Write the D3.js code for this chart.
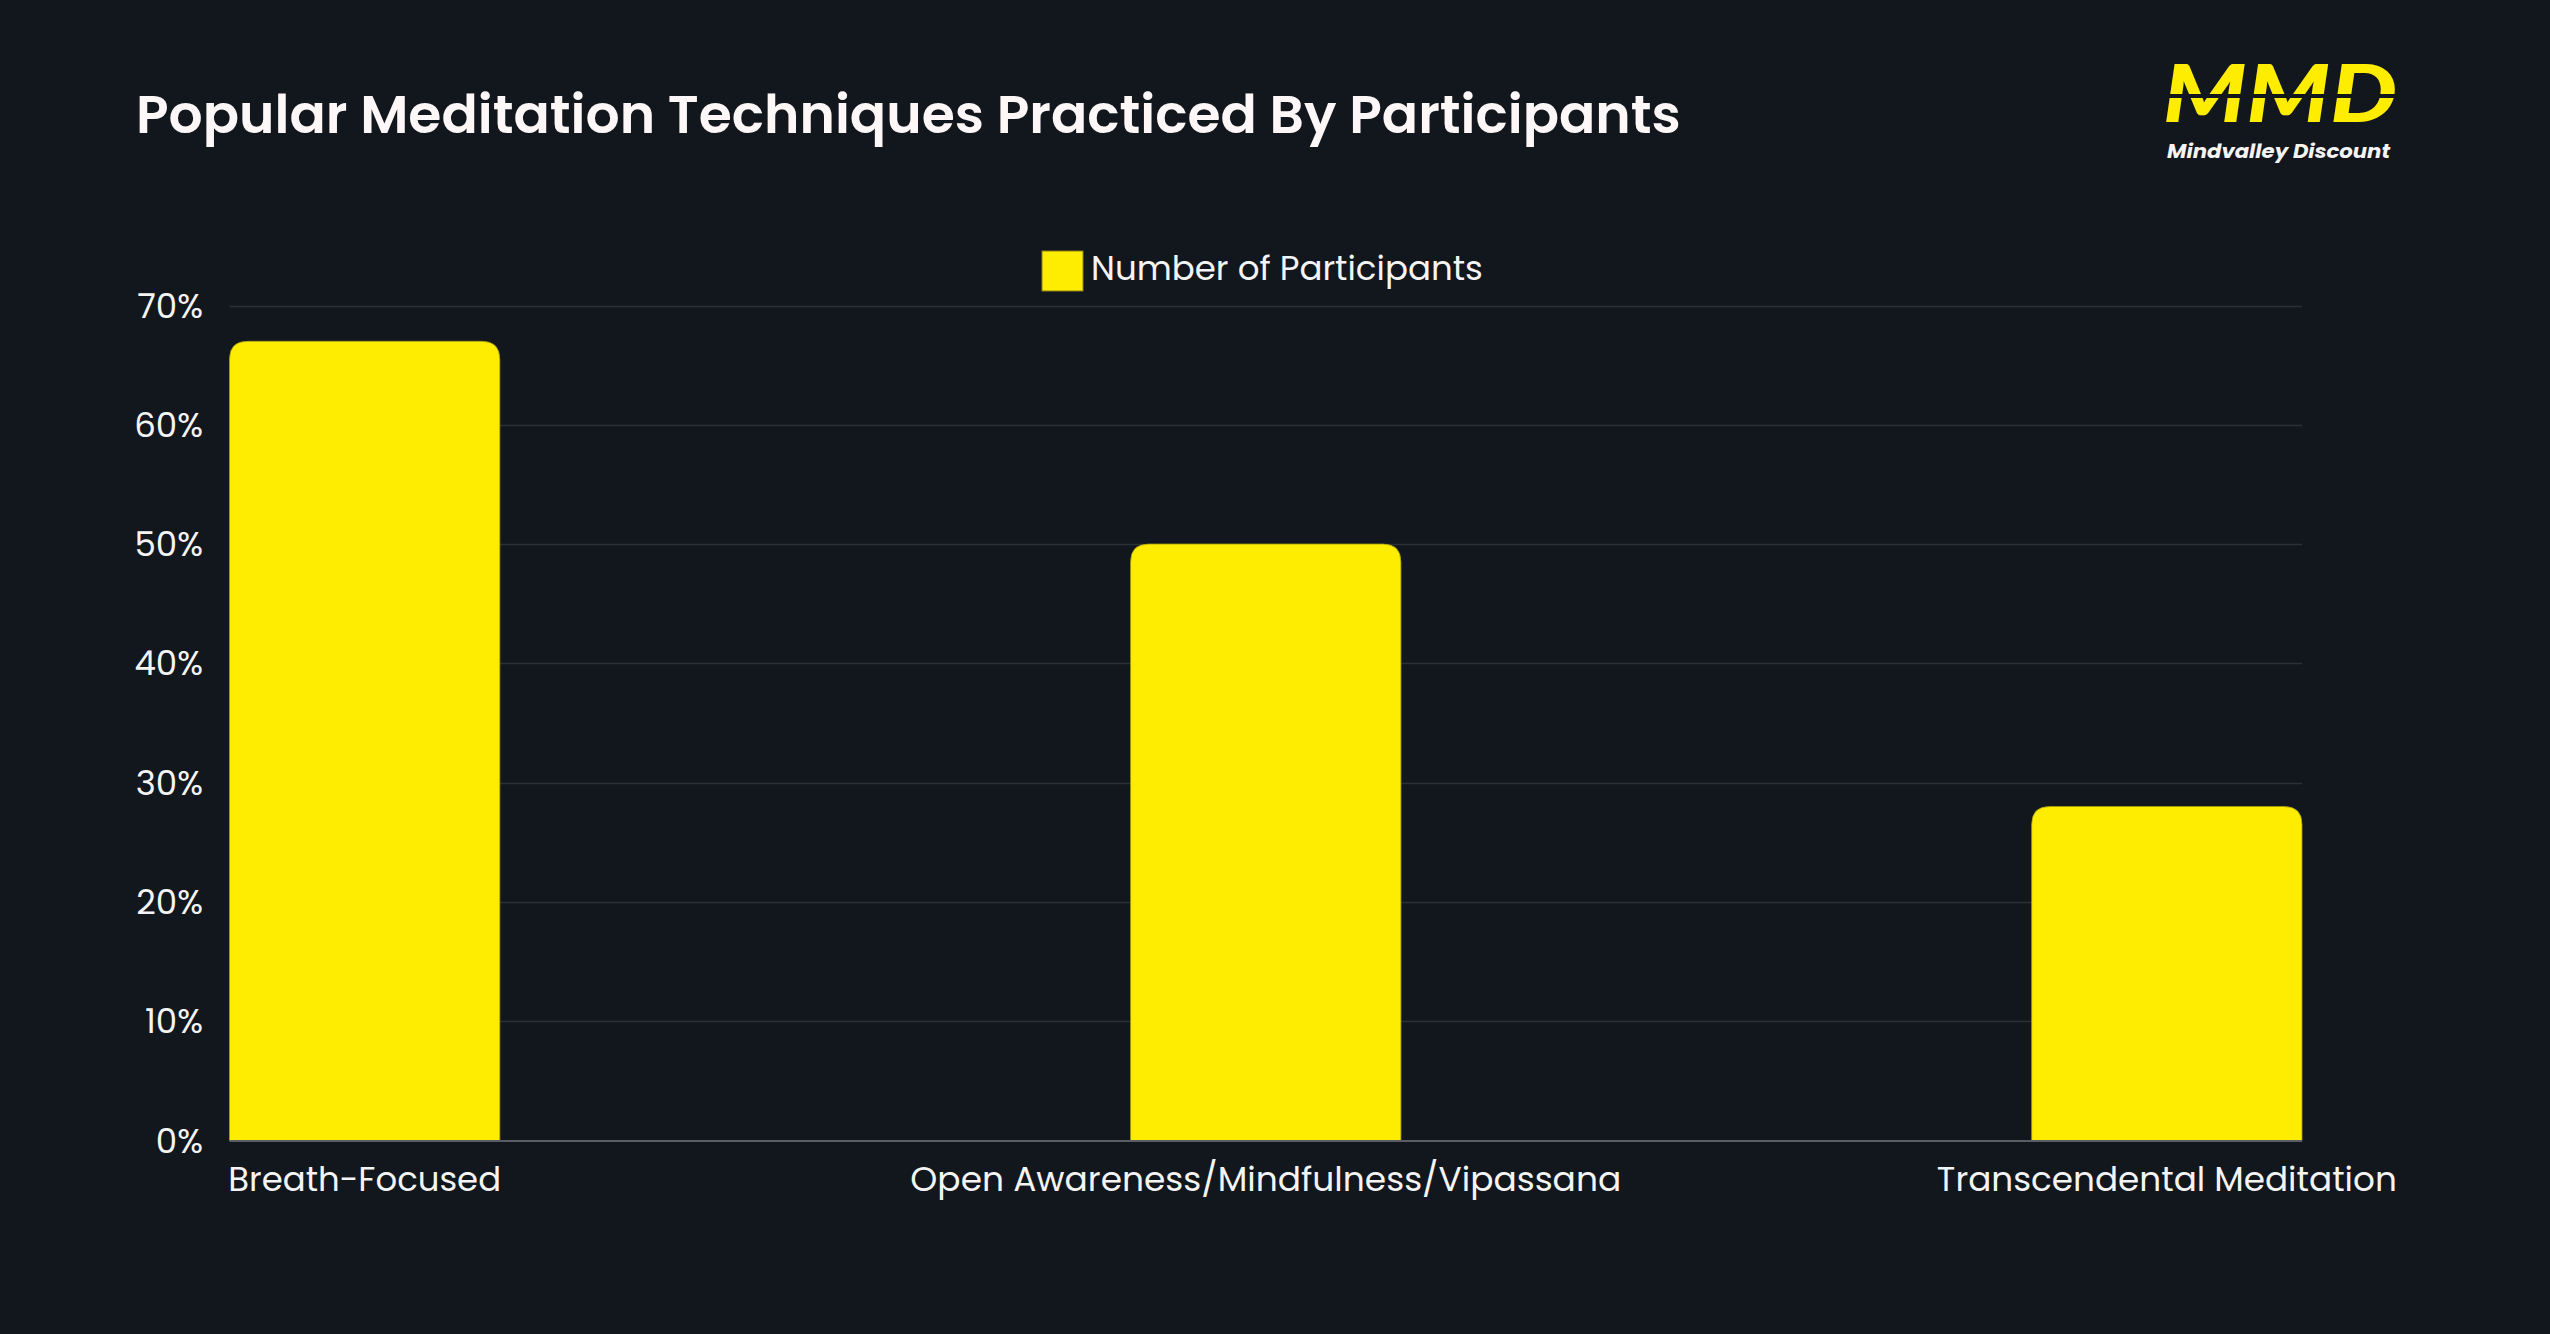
<!DOCTYPE html>
<html>
<head>
<meta charset="utf-8">
<script src="https://cdn.jsdelivr.net/npm/d3@7"></script>
<style>
html,body{margin:0;padding:0;background:#12161d;}
svg{display:block;}
text{font-family:"Poppins","Open Sans","Inter",sans-serif;}
</style>
</head>
<body>
<script>
const title = "Popular Meditation Techniques Practiced By Participants";
const seriesName = "Number of Participants";
const categories = ["Breath-Focused", "Open Awareness/Mindfulness/Vipassana", "Transcendental Meditation"];
const values = [67, 50, 28];
const yTicks = [0, 10, 20, 30, 40, 50, 60, 70];

const W = 2550, H = 1334;
const bg = "#12161d", barColor = "#ffed00";
const svg = d3.select("body").append("svg").attr("width", W).attr("height", H);
svg.append("rect").attr("width", W).attr("height", H).attr("fill", bg);

const plot = {left: 229.5, right: 2302, top: 305.5, bottom: 1140.5};
const x = d3.scaleBand().domain(categories).range([plot.left, plot.right]).paddingInner(0.7).paddingOuter(0);
const y = d3.scaleLinear().domain([0, 70]).range([plot.bottom, plot.top]);

function fit(sel, target){
  const n = sel.node();
  const fs = parseFloat(sel.attr("font-size"));
  const w = n.getComputedTextLength();
  if (w > 0) sel.attr("font-size", fs * target / w);
}

// gridlines
const grid = svg.append("g");
grid.selectAll("line").data(yTicks.filter(d => d !== 0)).join("line")
  .attr("x1", plot.left).attr("x2", plot.right)
  .attr("y1", d => Math.round(y(d)) + 0.5).attr("y2", d => Math.round(y(d)) + 0.5)
  .attr("stroke", "#2c3038").attr("stroke-width", 1.5);

// y axis labels
const yAxis = d3.axisLeft(y).tickValues(yTicks).tickFormat(d => d + "%").tickSize(0).tickPadding(0);
const yg = svg.append("g").attr("transform", `translate(203,0)`).call(yAxis);
yg.select(".domain").remove();
yg.selectAll("text").attr("fill", "#f4f4f4").attr("font-size", 34).attr("dy", "0.34em")
  .style("font-family", '"Poppins","Open Sans","Inter",sans-serif');

// bars with rounded tops
const r = 18;
function barPath(d, i){
  const x0 = x(categories[i]), x1 = x0 + x.bandwidth();
  const yt = y(d), yb = y(0);
  return `M${x0},${yb} L${x0},${yt + r} Q${x0},${yt} ${x0 + r},${yt} L${x1 - r},${yt} Q${x1},${yt} ${x1},${yt + r} L${x1},${yb} Z`;
}
svg.append("g").selectAll("path").data(values).join("path")
  .attr("d", (d, i) => barPath(d, i))
  .attr("fill", barColor).attr("stroke", "#a89d10").attr("stroke-width", 0.8);

// zero axis line
svg.append("line").attr("x1", plot.left).attr("x2", plot.right)
  .attr("y1", plot.bottom + 0.5).attr("y2", plot.bottom + 0.5)
  .attr("stroke", "#5a5d63").attr("stroke-width", 2);

// x axis labels
const xAxis = d3.axisBottom(x).tickSize(0).tickPadding(0);
const xg = svg.append("g").attr("transform", `translate(0,${plot.bottom})`).call(xAxis);
xg.select(".domain").remove();
const xTargets = [273, 711, 460];
xg.selectAll("text").attr("fill", "#f4f4f4").attr("font-size", 34).attr("dy", 0).attr("y", 50)
  .style("font-family", '"Poppins","Open Sans","Inter",sans-serif')
  .each(function(d, i){ fit(d3.select(this), xTargets[i]); });

// title
const t = svg.append("text").attr("x", 136).attr("y", 133).attr("fill", "#fdf7f7")
  .attr("font-size", 54).attr("font-weight", 600).text(title);
fit(t, 1545);

// legend
svg.append("rect").attr("x", 1042).attr("y", 251).attr("width", 41).attr("height", 40)
  .attr("fill", barColor).attr("stroke", "#8a8210").attr("stroke-width", 1);
const lt = svg.append("text").attr("x", 1091).attr("y", 280).attr("fill", "#f4f4f4")
  .attr("font-size", 34).text(seriesName);
fit(lt, 392);

// logo
const logo = svg.append("g");
logo.append("text").attr("x", 2163).attr("y", 122).attr("fill", barColor)
  .attr("font-size", 80).attr("font-weight", 900).attr("font-style", "italic")
  .style("font-family", '"Lato","Inter",sans-serif')
  .attr("textLength", 234).attr("lengthAdjust", "spacingAndGlyphs").text("MMD");
logo.append("rect").attr("x", 2150).attr("y", 94).attr("width", 260).attr("height", 4).attr("fill", bg);
logo.append("text").attr("x", 2167).attr("y", 158).attr("fill", "#f4f4f4")
  .attr("font-size", 20).attr("font-weight", 700).attr("font-style", "italic")
  .attr("textLength", 223).attr("lengthAdjust", "spacingAndGlyphs").text("Mindvalley Discount");
</script>
</body>
</html>
